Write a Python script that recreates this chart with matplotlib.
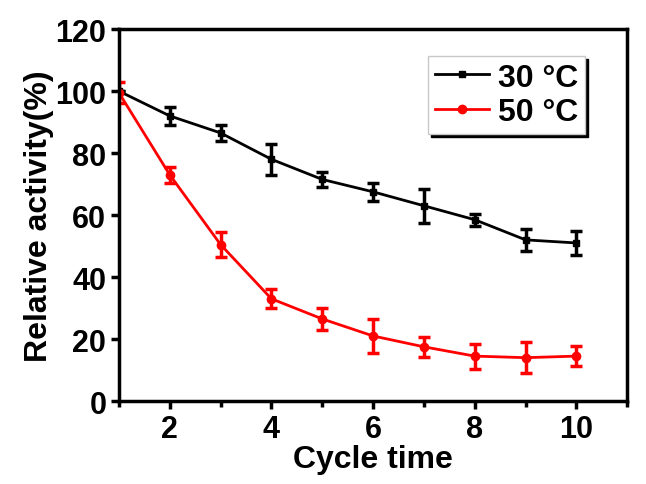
import matplotlib
matplotlib.use("Agg")
import matplotlib.pyplot as plt
from matplotlib.ticker import MultipleLocator
from matplotlib.lines import Line2D

plt.rcParams["font.family"] = ["Liberation Sans", "DejaVu Sans"]
plt.rcParams["font.weight"] = "bold"

# Data
cycles = [1, 2, 3, 4, 5, 6, 7, 8, 9, 10]
act_30 = [100, 92, 86.5, 78, 71.5, 67.5, 63, 58.5, 52, 51]
err_30 = [0, 3, 2.5, 5, 2.5, 3, 5.5, 2, 3.5, 4]
act_50 = [99.5, 73, 50.5, 33, 26.5, 21, 17.5, 14.5, 14, 14.5]
err_50 = [3.5, 2.5, 4, 3, 3.5, 5.5, 3.3, 4, 5, 3.3]
labels = ["30 \u00b0C", "50 \u00b0C"]

fig = plt.figure(figsize=(6.46, 4.85), dpi=100)
ax = fig.add_axes([0.184, 0.171, 0.787, 0.767])

ax.errorbar(cycles, act_30, yerr=err_30, color="black", marker="s", markersize=5,
            linewidth=2, elinewidth=2.5, capsize=4, capthick=2.5)
ax.errorbar(cycles, act_50, yerr=err_50, color="#ff0000", marker="o", markersize=6,
            linewidth=2, elinewidth=2.5, capsize=4, capthick=2.5)

ax.set_xlim(1, 11)
ax.set_ylim(0, 120)
ax.xaxis.set_minor_locator(MultipleLocator(1))
ax.yaxis.set_major_locator(MultipleLocator(20))
ax.set_xticks([2, 4, 6, 8, 10])

for sp in ax.spines.values():
    sp.set_linewidth(2.5)
ax.tick_params(which="major", direction="out", length=6, width=2.5, labelsize=22, pad=3)
ax.tick_params(which="minor", direction="out", length=4, width=2.5)

ax.set_xlabel("Cycle time", fontsize=23, fontweight="bold", labelpad=0)
ax.set_ylabel("Relative activity(%)", fontsize=23, fontweight="bold", labelpad=1)

handles = [
    Line2D([], [], color="black", marker="s", markersize=5, linewidth=2),
    Line2D([], [], color="#ff0000", marker="o", markersize=6, linewidth=2),
]
leg = ax.legend(handles, labels, loc="upper right", bbox_to_anchor=(0.917, 0.927),
                fontsize=23, fancybox=False, shadow={"color": "black", "alpha": 1},
                edgecolor="#c8c8c8", framealpha=1, handlelength=1.7,
                handletextpad=0.3, borderpad=0.2, labelspacing=0.15,
                borderaxespad=0)

fig.savefig("out.png", dpi=100)
